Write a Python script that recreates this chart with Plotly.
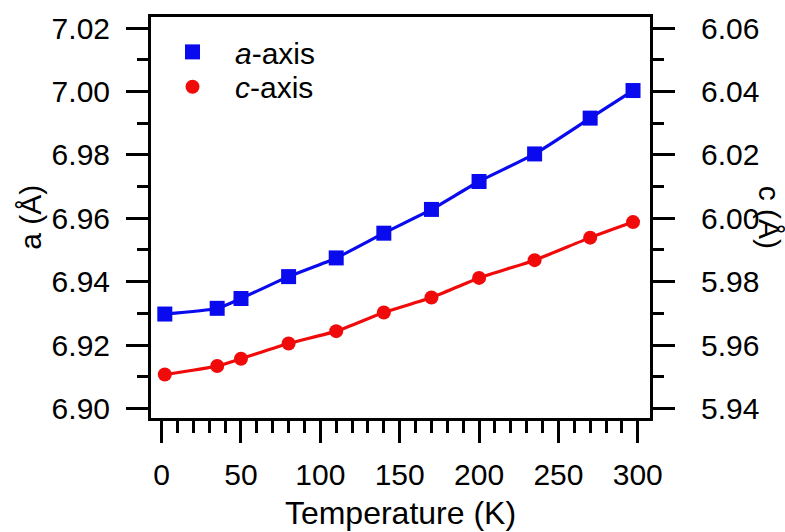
import plotly.graph_objects as go

temperature = [2, 35, 50, 80, 110, 140, 170, 200, 235, 270, 297]
a_axis = [6.9298, 6.9316, 6.9347, 6.9416, 6.9475, 6.9553, 6.9628, 6.9716, 6.9803, 6.9916, 7.0003]
c_axis = [5.9507, 5.9534, 5.9557, 5.9605, 5.9644, 5.9703, 5.9750, 5.9812, 5.9868, 5.9939, 5.9988]

FONT = "Liberation Sans, Arial, sans-serif"
BLUE = "#0a0aee"
RED = "#f00a0a"

fig = go.Figure()
# smooth lines (not in legend)
fig.add_trace(go.Scatter(
    x=temperature, y=a_axis, mode="lines", showlegend=False, hoverinfo="skip",
    line=dict(color=BLUE, width=3.2, shape="spline", smoothing=0.6), yaxis="y"))
fig.add_trace(go.Scatter(
    x=temperature, y=c_axis, mode="lines", showlegend=False, hoverinfo="skip",
    line=dict(color=RED, width=3.2, shape="spline", smoothing=0.6), yaxis="y2"))
# markers (in legends)
fig.add_trace(go.Scatter(
    x=temperature, y=a_axis, name="<i>a</i>-axis", mode="markers",
    marker=dict(symbol="square", size=15, color=BLUE), yaxis="y", legend="legend"))
fig.add_trace(go.Scatter(
    x=temperature, y=c_axis, name="<i>c</i>-axis", mode="markers",
    marker=dict(symbol="circle", size=14, color=RED), yaxis="y2", legend="legend2"))

tickfont = dict(family=FONT, size=30, color="black")
legfont = dict(family=FONT, size=30, color="black")

fig.update_layout(
    width=785, height=532,
    margin=dict(l=151, r=135, t=17, b=114, autoexpand=False),
    paper_bgcolor="white", plot_bgcolor="white",
    font=dict(family=FONT, size=30, color="black"),
    showlegend=True,
    legend=dict(x=-0.002, y=0.913, xanchor="left", yanchor="middle",
                bgcolor="rgba(0,0,0,0)", font=legfont, itemwidth=75),
    legend2=dict(x=-0.002, y=0.826, xanchor="left", yanchor="middle",
                 bgcolor="rgba(0,0,0,0)", font=legfont, itemwidth=75),
    xaxis=dict(
        range=[-6.7, 307.7], showgrid=False, zeroline=False, automargin=False,
        showline=True, linecolor="black", linewidth=3, mirror=True,
        ticks="outside", ticklen=22, tickwidth=3, tickcolor="black",
        tickmode="array", tickvals=[0, 50, 100, 150, 200, 250, 300],
        ticktext=["0", "50", "100", "150", "200", "250", "300"],
        minor=dict(dtick=10, tick0=0, ticks="outside", ticklen=12, tickwidth=3, tickcolor="black", showgrid=False),
        tickfont=tickfont, ticklabelstandoff=6,
        title=dict(text="Temperature (K)", font=dict(family=FONT, size=32), standoff=12),
    ),
    yaxis=dict(
        range=[6.8970, 7.0235], showgrid=False, zeroline=False, automargin=False,
        showline=True, linecolor="black", linewidth=3,
        ticks="outside", ticklen=22, tickwidth=3, tickcolor="black",
        tickvals=[6.90, 6.92, 6.94, 6.96, 6.98, 7.00, 7.02],
        ticktext=["6.90", "6.92", "6.94", "6.96", "6.98", "7.00", "7.02"],
        minor=dict(dtick=0.01, tick0=6.90, ticks="outside", ticklen=11, tickwidth=3, tickcolor="black", showgrid=False),
        tickfont=tickfont, ticklabelstandoff=10,
    ),
    yaxis2=dict(
        range=[5.9370, 6.0635], overlaying="y", side="right", automargin=False,
        showgrid=False, zeroline=False,
        showline=True, linecolor="black", linewidth=3,
        ticks="outside", ticklen=22, tickwidth=3, tickcolor="black",
        tickvals=[5.94, 5.96, 5.98, 6.00, 6.02, 6.04, 6.06],
        ticktext=["5.94", "5.96", "5.98", "6.00", "6.02", "6.04", "6.06"],
        minor=dict(dtick=0.01, tick0=5.94, ticks="outside", ticklen=11, tickwidth=3, tickcolor="black", showgrid=False),
        tickfont=tickfont, ticklabelstandoff=20,
    ),
    annotations=[
        dict(text="a (Å)", xref="paper", yref="paper", x=-0.242, y=0.5,
             xanchor="center", yanchor="middle", textangle=-90, showarrow=False,
             font=dict(family=FONT, size=30)),
        dict(text="c (Å)", xref="paper", yref="paper", x=1.24, y=0.5,
             xanchor="center", yanchor="middle", textangle=90, showarrow=False,
             font=dict(family=FONT, size=30)),
    ],
)

fig.write_html("out.html", config={"displayModeBar": False},
               post_script="document.body.style.margin='0px';document.body.style.overflow='hidden';")
